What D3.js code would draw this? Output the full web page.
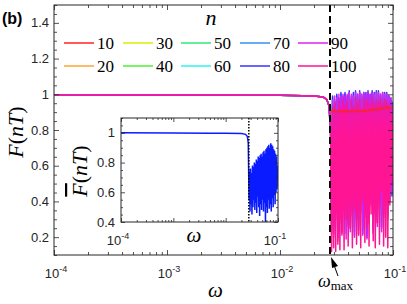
<!DOCTYPE html>
<html lang="en">
<head>
<meta charset="UTF-8">
<script src="https://d3js.org/d3.v7.min.js"></script>
<title>F(nT) vs omega</title>
<style>
  body { margin: 0; background: #fff; }
  svg { font-family: 'Liberation Sans', Arial, sans-serif; }
  .serif { font-family: 'Liberation Serif', 'Times New Roman', serif; }
</style>
</head>
<body>
<div id="wrapper"></div>
<script>
const nValues = [10, 20, 30, 40, 50, 60, 70, 80, 90, 100];
const colors = ["#ff2222", "#ffa333", "#d8f000", "#4cf030", "#30e878", "#30f2f2", "#3090f0", "#3535ff", "#e020f0", "#ff1493"];

// flat part, shared by all n
const omegaFlat = [1e-4, 1e-3, 0.005, 0.01, 0.02, 0.024, 0.026, 0.027];
const flatF = [0.997, 0.996, 0.995, 0.994, 0.99, 0.985, 0.97, 0.94];

// oscillating part, omega > omega_max
const omegaOsc = [0.0280, 0.0286, 0.0292, 0.0298, 0.0305, 0.0311, 0.0318, 0.0325, 0.0332, 0.0339,
  0.0346, 0.0353, 0.0361, 0.0369, 0.0376, 0.0385, 0.0393, 0.0401, 0.0410, 0.0419,
  0.0428, 0.0437, 0.0446, 0.0456, 0.0466, 0.0476, 0.0486, 0.0496, 0.0507, 0.0518,
  0.0529, 0.0540, 0.0552, 0.0564, 0.0576, 0.0588, 0.0601, 0.0614, 0.0627, 0.0640,
  0.0654, 0.0668, 0.0682, 0.0697, 0.0712, 0.0727, 0.0743, 0.0759, 0.0775, 0.0792,
  0.0809, 0.0826, 0.0844, 0.0862, 0.0880, 0.0899, 0.0918, 0.0938, 0.0958, 0.0979, 0.1000];

const F10 = [0.90, 0.90, 0.91, 0.905, 0.91, 0.90, 0.91, 0.905, 0.90, 0.91, 0.905, 0.90, 0.905, 0.91, 0.90, 0.905, 0.91, 0.90, 0.905, 0.91,
  0.90, 0.905, 0.91, 0.905, 0.90, 0.91, 0.905, 0.91, 0.90, 0.905, 0.91, 0.905, 0.91, 0.90, 0.91, 0.905, 0.91, 0.915, 0.905, 0.91,
  0.915, 0.91, 0.92, 0.91, 0.915, 0.92, 0.91, 0.92, 0.925, 0.915, 0.92, 0.925, 0.92, 0.93, 0.92, 0.925, 0.93, 0.92, 0.925, 0.93, 0.92];
const F20 = [0.88, 0.84, 0.92, 0.86, 0.93, 0.82, 0.91, 0.87, 0.94, 0.83, 0.92, 0.88, 0.94, 0.85, 0.93, 0.80, 0.92, 0.86, 0.95, 0.84,
  0.93, 0.87, 0.95, 0.82, 0.94, 0.86, 0.96, 0.84, 0.93, 0.88, 0.95, 0.83, 0.94, 0.87, 0.96, 0.85, 0.94, 0.82, 0.95, 0.88,
  0.96, 0.84, 0.95, 0.86, 0.97, 0.83, 0.95, 0.88, 0.96, 0.85, 0.94, 0.87, 0.96, 0.84, 0.95, 0.88, 0.93, 0.86, 0.92, 0.89, 0.90];
const F30 = [0.86, 0.70, 0.94, 0.62, 0.95, 0.74, 0.93, 0.58, 0.96, 0.68, 0.94, 0.55, 0.97, 0.72, 0.95, 0.60, 0.96, 0.66, 0.94, 0.52,
  0.97, 0.70, 0.95, 0.58, 0.96, 0.64, 0.98, 0.55, 0.95, 0.72, 0.97, 0.60, 0.96, 0.50, 0.98, 0.66, 0.95, 0.58, 0.97, 0.70,
  0.98, 0.54, 0.96, 0.62, 0.98, 0.57, 0.96, 0.68, 0.99, 0.52, 0.96, 0.64, 0.98, 0.60, 0.95, 0.70, 0.97, 0.58, 0.94, 0.72, 0.90];
const F40 = [0.85, 0.55, 0.95, 0.48, 0.94, 0.60, 0.96, 0.42, 0.95, 0.56, 0.97, 0.45, 0.95, 0.62, 0.97, 0.40, 0.96, 0.52, 0.98, 0.46,
  0.95, 0.58, 0.97, 0.38, 0.98, 0.50, 0.96, 0.44, 0.98, 0.60, 0.96, 0.42, 0.98, 0.54, 0.97, 0.36, 0.98, 0.48, 0.96, 0.58,
  0.99, 0.40, 0.97, 0.52, 0.98, 0.45, 0.99, 0.56, 0.96, 0.42, 0.98, 0.50, 0.97, 0.60, 0.98, 0.46, 0.96, 0.55, 0.95, 0.62, 0.92];
const F50 = [0.84, 0.42, 0.96, 0.35, 0.95, 0.48, 0.97, 0.30, 0.96, 0.45, 0.98, 0.33, 0.96, 0.50, 0.98, 0.28, 0.97, 0.40, 0.99, 0.36,
  0.96, 0.46, 0.98, 0.30, 0.99, 0.42, 0.97, 0.34, 0.99, 0.48, 0.97, 0.31, 0.99, 0.44, 0.98, 0.28, 0.99, 0.40, 0.97, 0.50,
  1.00, 0.33, 0.98, 0.45, 0.99, 0.36, 1.00, 0.48, 0.97, 0.32, 0.99, 0.42, 0.98, 0.52, 0.99, 0.38, 0.97, 0.46, 0.96, 0.55, 0.93];
const F60 = [0.83, 0.35, 0.97, 0.28, 0.96, 0.40, 0.98, 0.25, 0.97, 0.38, 0.99, 0.27, 0.97, 0.44, 0.99, 0.24, 0.98, 0.34, 1.00, 0.30,
  0.97, 0.40, 0.99, 0.26, 1.00, 0.36, 0.98, 0.29, 1.00, 0.42, 0.98, 0.27, 1.00, 0.38, 0.99, 0.24, 1.00, 0.35, 0.98, 0.45,
  1.01, 0.29, 0.99, 0.40, 1.00, 0.32, 1.01, 0.43, 0.98, 0.28, 1.00, 0.37, 0.99, 0.48, 1.00, 0.34, 0.98, 0.42, 0.97, 0.50, 0.94];
const F70 = [0.82, 0.30, 0.98, 0.24, 0.96, 0.36, 0.99, 0.22, 0.97, 0.34, 1.00, 0.25, 0.98, 0.40, 1.00, 0.22, 0.98, 0.30, 1.01, 0.27,
  0.98, 0.36, 1.00, 0.23, 1.01, 0.33, 0.99, 0.26, 1.01, 0.38, 0.99, 0.24, 1.00, 0.35, 1.00, 0.22, 1.01, 0.32, 0.99, 0.42,
  1.01, 0.26, 1.00, 0.37, 1.01, 0.30, 1.01, 0.40, 0.99, 0.26, 1.00, 0.35, 1.00, 0.46, 1.00, 0.32, 0.99, 0.44, 0.98, 0.52, 0.95];
const F80 = [0.81, 0.26, 0.99, 0.22, 0.97, 0.33, 1.00, 0.20, 0.98, 0.30, 1.01, 0.23, 0.99, 0.38, 1.01, 0.35, 0.99, 0.28, 1.02, 0.25,
  0.99, 0.34, 1.01, 0.21, 1.02, 0.31, 1.00, 0.24, 1.02, 0.36, 1.00, 0.22, 1.01, 0.33, 1.01, 0.20, 1.02, 0.30, 1.00, 0.40,
  1.02, 0.24, 1.01, 0.35, 1.02, 0.28, 1.02, 0.38, 1.00, 0.25, 1.01, 0.33, 1.01, 0.44, 1.01, 0.40, 0.99, 0.48, 0.97, 0.43, 0.96];
const F90 = [0.80, 0.22, 0.97, 0.20, 0.99, 0.30, 0.98, 0.18, 1.00, 0.28, 0.99, 0.21, 1.00, 0.35, 0.99, 0.19, 1.00, 0.26, 1.01, 0.23,
  1.00, 0.32, 0.99, 0.20, 1.01, 0.29, 1.00, 0.22, 1.01, 0.34, 1.00, 0.21, 1.01, 0.31, 1.00, 0.19, 1.01, 0.28, 1.00, 0.38,
  1.01, 0.22, 1.00, 0.33, 1.01, 0.26, 1.01, 0.36, 1.00, 0.23, 1.01, 0.31, 1.00, 0.42, 1.00, 0.30, 0.99, 0.40, 0.98, 0.45, 0.95];
const F100 = [0.88, 0.12, 0.93, 0.14, 0.95, 0.12, 0.90, 0.16, 0.96, 0.13, 0.92, 0.22, 0.97, 0.13, 0.94, 0.30, 0.96, 0.15, 0.91, 0.25,
  0.97, 0.14, 0.93, 0.35, 0.98, 0.16, 0.95, 0.21, 0.97, 0.14, 0.92, 0.40, 0.98, 0.17, 0.96, 0.26, 0.97, 0.15, 0.94, 0.33,
  0.98, 0.18, 0.95, 0.14, 0.97, 0.28, 0.96, 0.16, 0.98, 0.45, 0.95, 0.15, 0.97, 0.20, 0.96, 0.14, 0.94, 0.38, 0.92, 0.50, 0.88];
const seriesF = [F10, F20, F30, F40, F50, F60, F70, F80, F90, F100];

// inset: averaged fidelity
const insetFlatF = [1.0, 0.999, 0.998, 0.997, 0.995, 0.99, 0.975, 0.93];
const insetOscF = [0.55, 0.74, 0.47, 0.76, 0.52, 0.73, 0.45, 0.78, 0.50, 0.77, 0.55, 0.80, 0.48, 0.79, 0.53, 0.82, 0.46, 0.81, 0.57, 0.84,
  0.50, 0.83, 0.44, 0.85, 0.52, 0.86, 0.48, 0.84, 0.55, 0.87, 0.47, 0.88, 0.53, 0.86, 0.40, 0.89, 0.50, 0.90, 0.46, 0.91,
  0.55, 0.92, 0.49, 0.90, 0.52, 0.93, 0.47, 0.92, 0.56, 0.91, 0.50, 0.89, 0.58, 0.88, 0.52, 0.86, 0.60, 0.84, 0.62, 0.78, 0.70];

const omegaMax = 0.0277;

const xTicks = [1e-4, 1e-3, 1e-2, 1e-1];
const xTickExps = ["-4", "-3", "-2", "-1"];
const yTicks = [0.2, 0.4, 0.6, 0.8, 1, 1.2, 1.4];
const yTickLabels = ["0.2", "0.4", "0.6", "0.8", "1", "1.2", "1.4"];
const insetXTicks = [1e-4, 1e-3, 1e-2, 1e-1];
const insetXLabelled = [1e-4, 1e-1];
const insetXExps = ["-4", "-1"];
const insetYTicks = [0.4, 0.6, 0.8, 1];
const insetYTickLabels = ["0.4", "0.6", "0.8", "1"];

const width = 407, height = 304;
const axisColor = "#262626";

const svg = d3.select("#wrapper").append("svg")
  .attr("width", width)
  .attr("height", height);

// ---------- main axes ----------
const main = { left: 54, top: 5, right: 393, bottom: 255 };
const x = d3.scaleLog().domain([1e-4, 0.1]).range([main.left, main.right]);
const y = d3.scaleLinear().domain([0.1, 1.5]).range([main.bottom, main.top]);

function buildPoints(flatVals, oscVals) {
  const pts = omegaFlat.map((w, i) => [w, flatVals[i]]);
  return pts.concat(omegaOsc.map((w, i) => [w, oscVals[i]]));
}

svg.append("clipPath").attr("id", "clipMain")
  .append("rect")
  .attr("x", main.left).attr("y", main.top)
  .attr("width", main.right - main.left).attr("height", main.bottom - main.top);

const line = d3.line().x(d => x(d[0])).y(d => y(d[1]));

const curves = svg.append("g").attr("clip-path", "url(#clipMain)");
seriesF.forEach((F, i) => {
  curves.append("path")
    .datum(buildPoints(flatF, F))
    .attr("fill", "none")
    .attr("stroke", colors[i])
    .attr("stroke-width", 1.5)
    .attr("stroke-linejoin", "round")
    .attr("d", line);
});
// n = 10 beyond omega_max stays visible through the dense curves
curves.append("path")
  .datum(omegaOsc.map((w, i) => [w, F10[i]]))
  .attr("fill", "none")
  .attr("stroke", colors[0])
  .attr("stroke-width", 1.3)
  .attr("stroke-opacity", 0.9)
  .attr("d", line);

// omega_max dashed line
svg.append("line")
  .attr("x1", x(omegaMax)).attr("x2", x(omegaMax))
  .attr("y1", main.top).attr("y2", main.bottom)
  .attr("stroke", "#000")
  .attr("stroke-width", 2)
  .attr("stroke-dasharray", "7,4");

// axes with inward ticks
function drawLogXAxis(scale, top, bottom, majorTicks, majorLen, minorLen) {
  const minor = scale.ticks().filter(t => !majorTicks.includes(t));
  [[d3.axisBottom, bottom], [d3.axisTop, top]].forEach(([gen, ypos]) => {
    const g1 = svg.append("g").attr("transform", `translate(0,${ypos})`)
      .call(gen(scale).tickValues(majorTicks).tickSize(-majorLen).tickFormat(""));
    const g2 = svg.append("g").attr("transform", `translate(0,${ypos})`)
      .call(gen(scale).tickValues(minor).tickSize(-minorLen).tickFormat(""));
    [g1, g2].forEach(g => {
      g.select(".domain").remove();
      g.selectAll("line").attr("stroke", axisColor).attr("stroke-width", 0.8);
    });
  });
}

function drawLinYAxis(scale, left, right, majorTicks, minorStepCount, majorLen, minorLen) {
  const minor = scale.ticks(minorStepCount).filter(t => !majorTicks.some(m => Math.abs(m - t) < 1e-9));
  [[d3.axisLeft, left], [d3.axisRight, right]].forEach(([gen, xpos]) => {
    const g1 = svg.append("g").attr("transform", `translate(${xpos},0)`)
      .call(gen(scale).tickValues(majorTicks).tickSize(-majorLen).tickFormat(""));
    const g2 = svg.append("g").attr("transform", `translate(${xpos},0)`)
      .call(gen(scale).tickValues(minor).tickSize(-minorLen).tickFormat(""));
    [g1, g2].forEach(g => {
      g.select(".domain").remove();
      g.selectAll("line").attr("stroke", axisColor).attr("stroke-width", 0.8);
    });
  });
}

drawLogXAxis(x, main.top, main.bottom, xTicks, 5, 3);
drawLinYAxis(y, main.left, main.right, yTicks, 28, 5, 3);

svg.append("rect")
  .attr("x", main.left).attr("y", main.top)
  .attr("width", main.right - main.left).attr("height", main.bottom - main.top)
  .attr("fill", "none").attr("stroke", axisColor).attr("stroke-width", 1);

// tick labels
function powerLabel(xpos, ypos, exp, size) {
  const t = svg.append("text")
    .attr("x", xpos).attr("y", ypos)
    .attr("text-anchor", "middle")
    .attr("fill", axisColor)
    .style("font-size", size + "px");
  t.append("tspan").text("10");
  t.append("tspan").attr("dy", -size * 0.45).style("font-size", (size * 0.7) + "px").text(exp);
}

xTicks.forEach((t, i) => powerLabel(x(t) + 2, 278, xTickExps[i], 13));

yTicks.forEach((t, i) => {
  svg.append("text")
    .attr("x", main.left - 5).attr("y", y(t) + 4.5)
    .attr("text-anchor", "end")
    .attr("fill", axisColor)
    .style("font-size", "13px")
    .text(yTickLabels[i]);
});

// axis labels
const yLab = svg.append("text")
  .attr("class", "serif")
  .attr("transform", `translate(23,132) rotate(-90)`)
  .attr("text-anchor", "middle")
  .attr("fill", "#000")
  .style("font-size", "22px");
yLab.append("tspan").style("font-style", "italic").text("F");
yLab.append("tspan").text("(");
yLab.append("tspan").style("font-style", "italic").text("nT");
yLab.append("tspan").text(")");

svg.append("text")
  .attr("class", "serif")
  .attr("x", (main.left + main.right) / 2 - 8).attr("y", 297)
  .attr("text-anchor", "middle")
  .style("font-style", "italic")
  .style("font-size", "21px")
  .text("ω");

svg.append("text")
  .attr("x", 2).attr("y", 24)
  .style("font-weight", "bold")
  .style("font-size", "16px")
  .text("(b)");

// omega_max annotation
const tipX = x(omegaMax) + 1, tipY = main.bottom + 2;
svg.append("line")
  .attr("x1", tipX + 3).attr("y1", tipY + 8)
  .attr("x2", tipX + 7).attr("y2", tipY + 19)
  .attr("stroke", "#000").attr("stroke-width", 1);
svg.append("path")
  .attr("d", `M${tipX},${tipY} L${tipX + 7},${tipY + 9} L${tipX + 1},${tipY + 11} Z`)
  .attr("fill", "#000");
const wm = svg.append("text")
  .attr("class", "serif")
  .attr("x", tipX - 13).attr("y", 287)
  .style("font-size", "18px");
wm.append("tspan").style("font-style", "italic").text("ω");
wm.append("tspan").attr("dy", 3).style("font-size", "13px").text("max");

// ---------- legend ----------
const legendCols = [64, 123, 181, 240, 298];
const legendRows = [43, 66];
const legend = svg.append("g");
nValues.forEach((n, i) => {
  const cx = legendCols[Math.floor(i / 2)];
  const cy = legendRows[i % 2];
  legend.append("line")
    .attr("x1", cx).attr("x2", cx + 30)
    .attr("y1", cy).attr("y2", cy)
    .attr("stroke", colors[i]).attr("stroke-width", 1.5);
  legend.append("text")
    .attr("class", "serif")
    .attr("x", cx + 33).attr("y", cy + 6)
    .style("font-size", "17px")
    .text(n);
});
svg.append("text")
  .attr("class", "serif")
  .attr("x", 211).attr("y", 25)
  .attr("text-anchor", "middle")
  .style("font-style", "italic")
  .style("font-size", "22px")
  .text("n");

// ---------- inset ----------
const ins = { left: 121, top: 118, right: 278, bottom: 222 };
const xi = d3.scaleLog().domain([1e-4, 0.1]).range([ins.left, ins.right]);
const yi = d3.scaleLinear().domain([0.4, 1.1]).range([ins.bottom, ins.top]);

svg.append("rect")
  .attr("x", ins.left).attr("y", ins.top)
  .attr("width", ins.right - ins.left).attr("height", ins.bottom - ins.top)
  .attr("fill", "#fff");

svg.append("clipPath").attr("id", "clipInset")
  .append("rect")
  .attr("x", ins.left).attr("y", ins.top)
  .attr("width", ins.right - ins.left).attr("height", ins.bottom - ins.top);

const insetPts = omegaFlat.map((w, i) => [w, insetFlatF[i]])
  .concat(omegaOsc.map((w, i) => [w, insetOscF[i]]));
svg.append("g").attr("clip-path", "url(#clipInset)")
  .append("path")
  .datum(insetPts)
  .attr("fill", "none")
  .attr("stroke", "#0a1cff")
  .attr("stroke-width", 1.5)
  .attr("d", d3.line().x(d => xi(d[0])).y(d => yi(d[1])));

svg.append("line")
  .attr("x1", xi(omegaMax)).attr("x2", xi(omegaMax))
  .attr("y1", ins.top).attr("y2", ins.bottom)
  .attr("stroke", "#000")
  .attr("stroke-width", 1.5)
  .attr("stroke-dasharray", "1.5,1.5");

drawLogXAxis(xi, ins.top, ins.bottom, insetXTicks, 4, 2);
drawLinYAxis(yi, ins.left, ins.right, insetYTicks, 14, 4, 2);

svg.append("rect")
  .attr("x", ins.left).attr("y", ins.top)
  .attr("width", ins.right - ins.left).attr("height", ins.bottom - ins.top)
  .attr("fill", "none").attr("stroke", axisColor).attr("stroke-width", 1);

insetXLabelled.forEach((t, i) => powerLabel(xi(t) - 3, 245, insetXExps[i], 13));

insetYTicks.forEach((t, i) => {
  svg.append("text")
    .attr("x", ins.left - 6).attr("y", yi(t) + 4.5)
    .attr("text-anchor", "end")
    .attr("fill", axisColor)
    .style("font-size", "13px")
    .text(insetYTickLabels[i]);
});

const yiLab = svg.append("text")
  .attr("class", "serif")
  .attr("transform", `translate(87,171) rotate(-90)`)
  .attr("text-anchor", "middle")
  .style("font-size", "22px");
yiLab.append("tspan").style("font-style", "italic").style("text-decoration", "overline").text("F");
yiLab.append("tspan").text("(");
yiLab.append("tspan").style("font-style", "italic").text("nT");
yiLab.append("tspan").text(")");

svg.append("text")
  .attr("class", "serif")
  .attr("x", 194).attr("y", 242)
  .attr("text-anchor", "middle")
  .style("font-style", "italic")
  .style("font-size", "21px")
  .text("ω");
</script>
</body>
</html>
